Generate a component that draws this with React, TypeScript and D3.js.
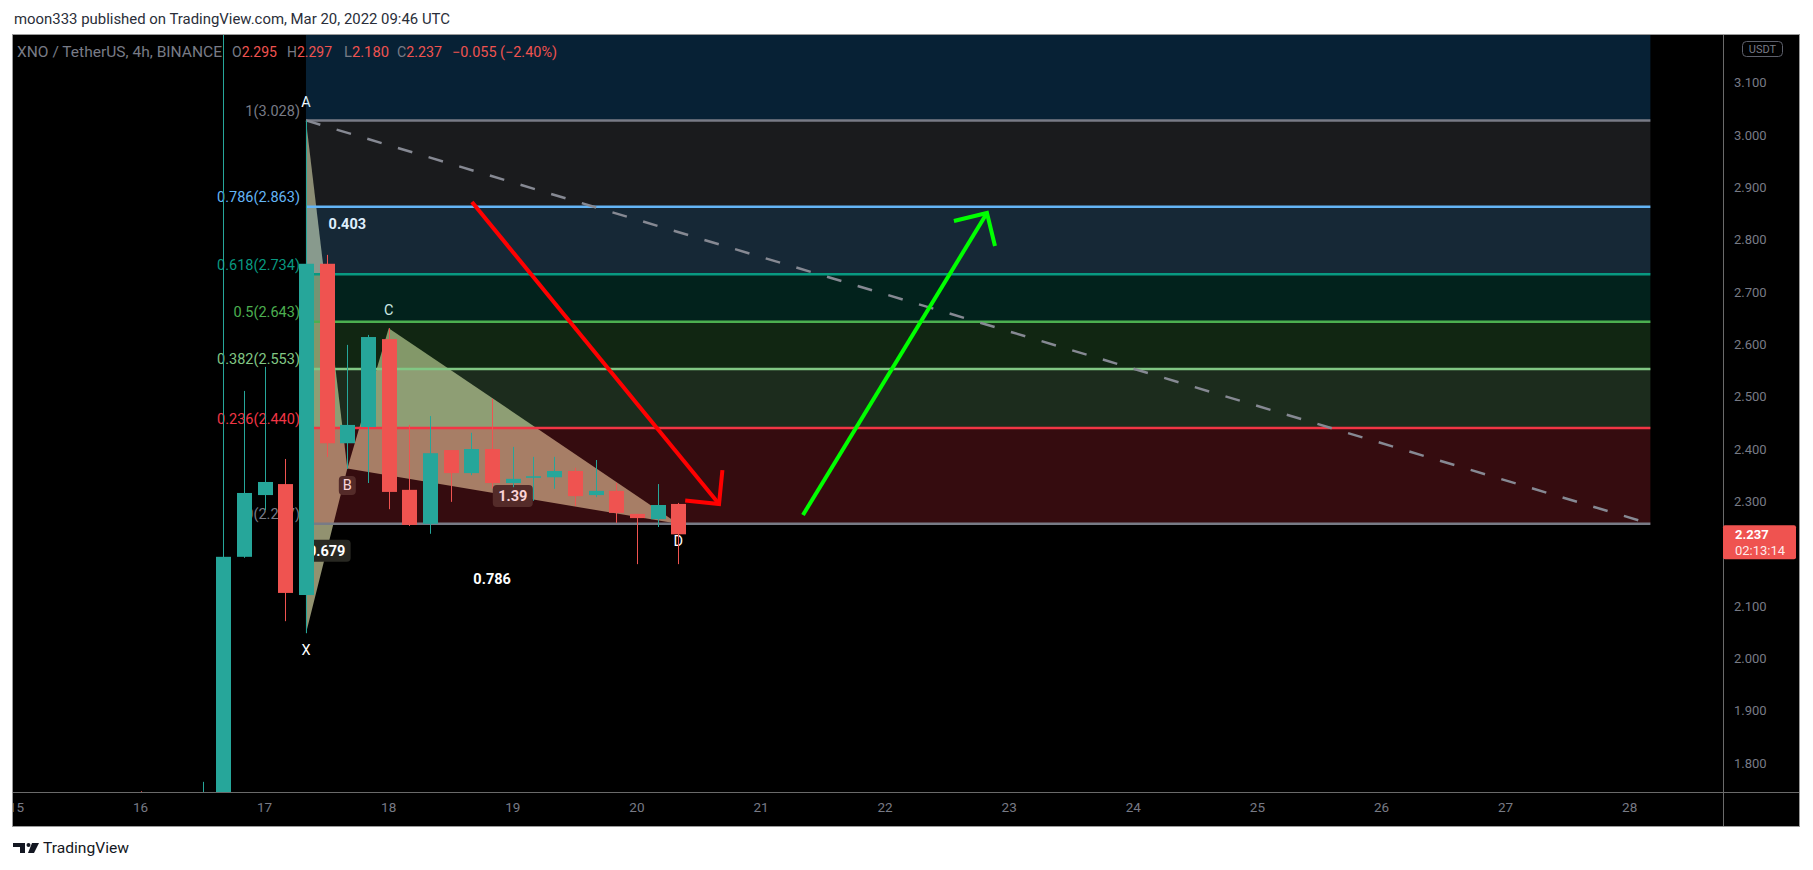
import React from "react";
import * as d3 from "d3";

// ---------- text ----------
const TITLE = "moon333 published on TradingView.com, Mar 20, 2022 09:46 UTC";
const SYMBOL = "XNO / TetherUS, 4h, BINANCE";
const OHLC_KEYS = ["O", "H", "L", "C"];
const OHLC_VALUES = ["2.295", "2.297", "2.180", "2.237"];
const CHANGE_TEXT = "\u22120.055 (\u22122.40%)";
const CURRENCY = "USDT";
const LAST_PRICE = 2.237;
const LAST_PRICE_TEXT = "2.237";
const COUNTDOWN = "02:13:14";
const BRAND = "TradingView";

// ---------- candles (4h, UTC) ----------
const BAR_TIMES = [
  "2022-03-16T00:00Z", "2022-03-16T04:00Z", "2022-03-16T08:00Z", "2022-03-16T12:00Z",
  "2022-03-16T16:00Z", "2022-03-16T20:00Z", "2022-03-17T00:00Z", "2022-03-17T04:00Z",
  "2022-03-17T08:00Z", "2022-03-17T12:00Z", "2022-03-17T16:00Z", "2022-03-17T20:00Z",
  "2022-03-18T00:00Z", "2022-03-18T04:00Z", "2022-03-18T08:00Z", "2022-03-18T12:00Z",
  "2022-03-18T16:00Z", "2022-03-18T20:00Z", "2022-03-19T00:00Z", "2022-03-19T04:00Z",
  "2022-03-19T08:00Z", "2022-03-19T12:00Z", "2022-03-19T16:00Z", "2022-03-19T20:00Z",
  "2022-03-20T00:00Z", "2022-03-20T04:00Z", "2022-03-20T08:00Z",
];
const OPEN = [1.705, 1.700, 1.712, 1.702, 1.738, 2.194, 2.312, 2.333, 2.121, 2.754, 2.411, 2.442, 2.610, 2.322,
  2.257, 2.398, 2.354, 2.400, 2.335, 2.345, 2.346, 2.358, 2.312, 2.320, 2.276, 2.266, 2.295];
const HIGH = [1.746, 1.722, 1.728, 1.764, 3.250, 2.511, 2.557, 2.381, 3.028, 2.771, 2.599, 2.618, 2.631, 2.446,
  2.463, 2.398, 2.431, 2.496, 2.404, 2.385, 2.385, 2.364, 2.379, 2.335, 2.276, 2.333, 2.297];
const LOW = [1.680, 1.682, 1.690, 1.695, 1.730, 2.192, 2.283, 2.071, 2.048, 2.385, 2.362, 2.335, 2.285, 2.253,
  2.238, 2.299, 2.350, 2.325, 2.327, 2.301, 2.324, 2.291, 2.308, 2.259, 2.180, 2.251, 2.180];
const CLOSE = [1.700, 1.712, 1.702, 1.738, 2.194, 2.316, 2.337, 2.125, 2.754, 2.411, 2.446, 2.614, 2.318, 2.255,
  2.392, 2.354, 2.400, 2.335, 2.343, 2.348, 2.358, 2.310, 2.320, 2.278, 2.268, 2.293, 2.237];

// ---------- axes ----------
const PRICE_TICKS = ["1.800", "1.900", "2.000", "2.100", "2.200", "2.300", "2.400", "2.500", "2.600",
  "2.700", "2.800", "2.900", "3.000", "3.100"];
const DAY_TICKS = [15, 16, 17, 18, 19, 20, 21, 22, 23, 24, 25, 26, 27, 28];

// ---------- fib retracement ----------
const FIB_START_TIME = "2022-03-17T08:00Z";
const FIB_END_TIME = "2022-03-28T04:00Z";
const FIB_LEVELS = [0, 0.236, 0.382, 0.5, 0.618, 0.786, 1, 1.618];
const FIB_PRICES = [2.257, 2.440, 2.553, 2.643, 2.734, 2.863, 3.028, 3.504];
const FIB_COLORS = ["#787b86", "#f23645", "#81c784", "#4caf50", "#089981", "#64b5f6", "#787b86", "#2196f3"];

// ---------- XABCD pattern ----------
const PT_NAMES = ["X", "A", "B", "C", "D"];
const PT_TIMES = ["2022-03-17T08:00Z", "2022-03-17T08:00Z", "2022-03-17T16:00Z", "2022-03-18T00:00Z", "2022-03-20T08:00Z"];
const PT_PRICES = [2.048, 3.028, 2.363, 2.631, 2.257];
const RATIO_PAIRS = [["X", "B"], ["A", "C"], ["B", "D"], ["X", "D"]];
const RATIO_TEXT = ["0.679", "0.403", "1.39", "0.786"];
const BOXED_LABELS = ["B", "0.679", "1.39"];

// ---------- arrows ----------
const ARROW_FROM_TIMES = ["2022-03-18T16:06Z", "2022-03-21T08:07Z"];
const ARROW_FROM_PRICES = [2.872, 2.274];
const ARROW_TO_TIMES = ["2022-03-20T15:53Z", "2022-03-22T19:42Z"];
const ARROW_TO_PRICES = [2.295, 2.851];
const ARROW_COLORS = ["#ff0000", "#00ff00"];

const FONT = "Roboto, 'Noto Sans', 'DejaVu Sans', sans-serif";
const UP = "#26a69a";
const DN = "#ef5350";
const GREY = "#787b86";

const T = (s: string) => new Date(s);

export default function App() {
  const W = 1813, H = 870;
  const pane = { l: 13, t: 35, r: 1723, b: 792 };
  const outer = { r: 1799, b: 826 };

  const x = d3.scaleUtc()
    .domain([T("2022-03-16T00:00Z"), T("2022-03-17T00:00Z")])
    .range([140.5, 264.6]);
  const y = d3.scaleLinear().domain([1.8, 3.1]).range([763, 82.7]);

  const bodyW = 15;

  const candles = BAR_TIMES.map((t, i) => {
    const cx = Math.round(x(T(t)));
    const o = OPEN[i], c = CLOSE[i];
    const up = c >= o;
    const top = y(Math.max(o, c));
    const bot = y(Math.min(o, c));
    return (
      <g key={t}>
        <line x1={cx + 0.5} x2={cx + 0.5} y1={y(HIGH[i])} y2={y(LOW[i])} stroke={up ? UP : DN} strokeWidth={1} />
        <rect x={cx + 0.5 - bodyW / 2} y={top} width={bodyW} height={Math.max(1, bot - top)} fill={up ? UP : DN} />
      </g>
    );
  });

  // fib
  const fx0 = x(T(FIB_START_TIME));
  const fx1 = x(T(FIB_END_TIME));
  const fibFills = FIB_LEVELS.slice(1).map((lv, i) => {
    const yTop = y(FIB_PRICES[i + 1]);
    const yBot = y(FIB_PRICES[i]);
    return <rect key={"ff" + lv} x={fx0} y={yTop} width={fx1 - fx0} height={yBot - yTop}
      fill={FIB_COLORS[i + 1]} fillOpacity={0.22} />;
  });
  const fibLines = FIB_LEVELS.map((lv, i) => (
    <line key={"fl" + lv} x1={fx0} x2={fx1} y1={y(FIB_PRICES[i])} y2={y(FIB_PRICES[i])}
      stroke={FIB_COLORS[i]} strokeWidth={2.5} />
  ));
  const fibLabels = FIB_LEVELS.map((lv, i) => (
    <text key={"fz" + lv} x={fx0 - 6} y={y(FIB_PRICES[i]) - 4.5} textAnchor="end"
      fontSize={14.5} fontFamily={FONT} fill={FIB_COLORS[i]}>{`${lv}(${FIB_PRICES[i].toFixed(3)})`}</text>
  ));

  // pattern points
  const P: Record<string, [number, number]> = {};
  PT_NAMES.forEach((n, i) => { P[n] = [x(T(PT_TIMES[i])), y(PT_PRICES[i])]; });
  const poly = (names: string[]) => names.map((n) => P[n].join(",")).join(" ");
  const above: Record<string, boolean> = { X: false, A: true, B: false, C: true, D: false };

  const labelBox = (key: string, text: string, cx: number, cy: number, bold: boolean) => {
    const w = text.length * (bold ? 8 : 9) + 8;
    const h = bold ? 22 : 19;
    return (
      <g key={key}>
        {BOXED_LABELS.includes(text) && (
          <rect x={cx - w / 2} y={cy - h / 2} width={w} height={h} rx={4} fill="rgb(40,40,34)" />
        )}
        <text x={cx} y={cy + 5} textAnchor="middle" fontSize={14.5} fontWeight={bold ? 700 : 400}
          fontFamily={FONT} fill="#ffffff">{text}</text>
      </g>
    );
  };

  const pointLabels = PT_NAMES.map((n) => {
    const [px, py] = P[n];
    return labelBox("pl" + n, n, px, above[n] ? py - 18 : py + 17, false);
  });
  const ratioLabels = RATIO_PAIRS.map(([a, b], i) => {
    const mx = (P[a][0] + P[b][0]) / 2;
    const my = (P[a][1] + P[b][1]) / 2;
    return labelBox("rl" + i, RATIO_TEXT[i], mx, my, true);
  });

  // arrows
  const arrows = ARROW_COLORS.map((col, i) => {
    const x0 = x(T(ARROW_FROM_TIMES[i])), y0 = y(ARROW_FROM_PRICES[i]);
    const x1 = x(T(ARROW_TO_TIMES[i])), y1 = y(ARROW_TO_PRICES[i]);
    const ang = Math.atan2(y0 - y1, x0 - x1);
    const L = 34, sp = Math.PI / 4;
    const a1 = [x1 + L * Math.cos(ang + sp), y1 + L * Math.sin(ang + sp)];
    const a2 = [x1 + L * Math.cos(ang - sp), y1 + L * Math.sin(ang - sp)];
    return (
      <g key={"ar" + i} stroke={col} strokeWidth={4} fill="none">
        <line x1={x0} y1={y0} x2={x1} y2={y1} />
        <polyline points={`${a1[0]},${a1[1]} ${x1},${y1} ${a2[0]},${a2[1]}`} strokeLinejoin="miter" />
      </g>
    );
  });

  const legendX = [232, 287, 344, 397];
  const lastY = y(LAST_PRICE);
  const tagTop = lastY - 9, tagBot = lastY + 25;
  // price labels hidden behind the last-price tag, as on the original axis
  const visibleTicks = PRICE_TICKS.filter((s) => {
    const ty = y(parseFloat(s));
    return ty + 7 < tagTop || ty - 7 > tagBot;
  });

  return (
    <div style={{ position: "absolute", left: 0, top: 0 }}>
      <svg width={W} height={H} style={{ display: "block", background: "#ffffff" }}>
        <defs>
          <clipPath id="pane">
            <rect x={pane.l} y={pane.t} width={pane.r - pane.l} height={pane.b - pane.t} />
          </clipPath>
          <clipPath id="timeaxis">
            <rect x={pane.l} y={pane.b} width={pane.r - pane.l} height={outer.b - pane.b} />
          </clipPath>
        </defs>

        <text x={14} y={23.5} fontSize={14} fontFamily={FONT} fill="#2a2e39" textLength={436}
          lengthAdjust="spacingAndGlyphs">{TITLE}</text>

        {/* panel */}
        <rect x={pane.l} y={pane.t} width={outer.r - pane.l} height={outer.b - pane.t} fill="#000000" />

        <g clipPath="url(#pane)">
          {/* pattern */}
          <polygon points={poly(["X", "A", "B"])} fill="#929270" />
          <polygon points={poly(["B", "C", "D"])} fill="#929270" />
          {pointLabels}
          {ratioLabels}
          {/* fib */}
          {fibFills}
          {fibLines}
          <line x1={fx0} y1={y(FIB_PRICES[6])} x2={fx1} y2={y(FIB_PRICES[0])} stroke="#868993"
            strokeWidth={2.5} strokeDasharray="15 17" />
          {fibLabels}
          {candles}
          {arrows}
        </g>

        {/* legend */}
        <text x={17} y={57} fontSize={14} fontFamily={FONT} fill={GREY} textLength={205}
          lengthAdjust="spacingAndGlyphs">{SYMBOL}</text>
        {OHLC_KEYS.map((k, i) => (
          <text key={"lg" + k} x={legendX[i]} y={57} fontSize={14} fontFamily={FONT} textLength={45}
            lengthAdjust="spacingAndGlyphs">
            <tspan fill={GREY}>{k}</tspan><tspan fill={DN}>{OHLC_VALUES[i]}</tspan>
          </text>
        ))}
        <text x={452} y={57} fontSize={14} fontFamily={FONT} fill={DN} textLength={105}
          lengthAdjust="spacingAndGlyphs">{CHANGE_TEXT}</text>

        {/* price axis */}
        <line x1={pane.r + 0.5} x2={pane.r + 0.5} y1={pane.t} y2={outer.b} stroke="#6a6a6a" />
        <line x1={pane.l} x2={outer.r} y1={pane.b + 0.5} y2={pane.b + 0.5} stroke="#6a6a6a" />
        {visibleTicks.map((s) => (
          <text key={"pt" + s} x={1734} y={y(parseFloat(s)) + 4.5} fontSize={13} fontFamily={FONT}
            fill={GREY}>{s}</text>
        ))}
        <rect x={1742.5} y={41.5} width={40} height={15} rx={4} fill="none" stroke="#5d606b" />
        <text x={1762.5} y={53} textAnchor="middle" fontSize={11} fontFamily={FONT} fill={GREY}>{CURRENCY}</text>

        <rect x={pane.r} y={tagTop} width={73} height={tagBot - tagTop} rx={2} fill={DN} />
        <text x={1735} y={lastY + 5} fontSize={13} fontWeight={700} fontFamily={FONT} fill="#ffffff">{LAST_PRICE_TEXT}</text>
        <text x={1735} y={lastY + 21} fontSize={13} fontFamily={FONT} fill="#ffffff" fillOpacity={0.9}>{COUNTDOWN}</text>

        {/* time axis */}
        <g clipPath="url(#timeaxis)">
          {DAY_TICKS.map((d) => (
            <text key={"dt" + d} x={x(new Date(Date.UTC(2022, 2, d)))} y={812} textAnchor="middle"
              fontSize={13.5} fontFamily={FONT} fill={GREY}>{String(d)}</text>
          ))}
        </g>

        {/* frame */}
        <rect x={pane.l - 0.5} y={pane.t - 0.5} width={outer.r - pane.l + 1} height={outer.b - pane.t + 1}
          fill="none" stroke="#9a9a9a" />

        {/* brand */}
        <g fill="#131722">
          <path d="M13,843 H25 V853 H20 V847 H13 Z" />
          <circle cx={28.5} cy={845} r={2} />
          <path d="M32,843 H39 L34,853 H28 Z" />
        </g>
        <text x={43} y={853} fontSize={15} fontFamily={FONT} fill="#131722" textLength={86}
          lengthAdjust="spacingAndGlyphs">{BRAND}</text>
      </svg>
    </div>
  );
}
